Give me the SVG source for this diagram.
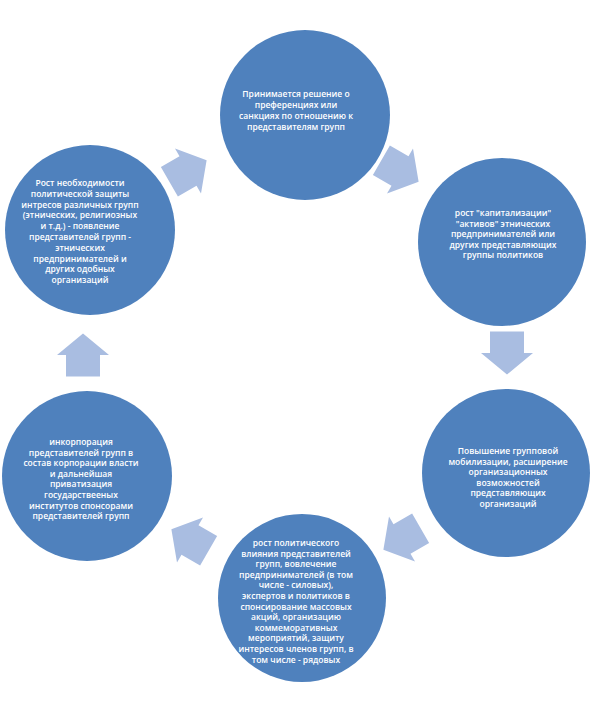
<svg xmlns="http://www.w3.org/2000/svg" width="590" height="710" viewBox="0 0 590 710">
<defs>
<style>
.c{fill:#4F81BD;}
.a{fill:#A9BDE1;}
.t{font-family:"Open Sans","Liberation Sans",sans-serif;font-size:8.5px;font-weight:600;fill:#FFFFFF;text-anchor:middle;}
</style>
<polygon id="arr" points="-21.5,-17 0,-17 0,-26 21.5,0 0,26 0,17 -21.5,17"/>
</defs>
<rect width="590" height="710" fill="#FFFFFF"/>
<g id="connectors">
<use href="#arr" class="a" transform="translate(188,171) rotate(-30)"/>
<use href="#arr" class="a" transform="translate(400,171) rotate(30)"/>
<use href="#arr" class="a" transform="translate(507,353) rotate(90)"/>
<use href="#arr" class="a" transform="translate(402,539) rotate(150)"/>
<use href="#arr" class="a" transform="translate(190,540) rotate(210)"/>
<use href="#arr" class="a" transform="translate(83,355) rotate(-90)"/>
</g>
<g id="node1">
<circle class="c" cx="305" cy="115" r="85"/>
<text class="t"><tspan x="296" y="97">Принимается решение о</tspan><tspan x="296" y="108">преференциях или</tspan><tspan x="296" y="119">санкциях по отношению к</tspan><tspan x="296" y="130">представителям групп</tspan></text>
</g>
<g id="node2">
<circle class="c" cx="502" cy="242" r="84"/>
<text class="t"><tspan x="503" y="216">рост "капитализации"</tspan><tspan x="503" y="226.6">"активов" этнических</tspan><tspan x="503" y="237.2">предпринимателей или</tspan><tspan x="503" y="247.8">других представляющих</tspan><tspan x="503" y="258.4">группы политиков</tspan></text>
</g>
<g id="node3">
<circle class="c" cx="506" cy="473" r="84"/>
<text class="t"><tspan x="508" y="454">Повышение групповой</tspan><tspan x="508" y="464.6">мобилизации, расширение</tspan><tspan x="508" y="475.2">организационных</tspan><tspan x="508" y="485.8">возможностей</tspan><tspan x="508" y="496.4">представляющих</tspan><tspan x="508" y="507">организаций</tspan></text>
</g>
<g id="node4">
<circle class="c" cx="302" cy="598" r="84"/>
<text class="t"><tspan x="296" y="546">рост политического</tspan><tspan x="296" y="556.6">влияния представителей</tspan><tspan x="296" y="567.2">групп, вовлечение</tspan><tspan x="296" y="577.8">предпринимателей (в том</tspan><tspan x="296" y="588.4">числе - силовых),</tspan><tspan x="296" y="599">экспертов и политиков в</tspan><tspan x="296" y="609.6">спонсирование массовых</tspan><tspan x="296" y="620.2">акций, организацию</tspan><tspan x="296" y="630.8">коммеморативных</tspan><tspan x="296" y="641.4">мероприятий, защиту</tspan><tspan x="296" y="652">интересов членов групп, в</tspan><tspan x="296" y="662.6">том числе - рядовых</tspan></text>
</g>
<g id="node5">
<circle class="c" cx="87" cy="476" r="85"/>
<text class="t"><tspan x="81" y="445">инкорпорация</tspan><tspan x="81" y="455.6">представителей групп в</tspan><tspan x="81" y="466.2">состав корпорации власти</tspan><tspan x="81" y="476.8">и дальнейшая</tspan><tspan x="81" y="487.4">приватизация</tspan><tspan x="81" y="498">государствееных</tspan><tspan x="81" y="508.6">институтов спонсорами</tspan><tspan x="81" y="519.2">представителей групп</tspan></text>
</g>
<g id="node6">
<circle class="c" cx="90" cy="230" r="85"/>
<text class="t"><tspan x="80" y="186">Рост необходимости</tspan><tspan x="80" y="196.8">политической защиты</tspan><tspan x="80" y="207.6">интресов различных групп</tspan><tspan x="80" y="218.4">(этнических, религиозных</tspan><tspan x="80" y="229.2">и т.д.) - появление</tspan><tspan x="80" y="240">представителей групп -</tspan><tspan x="80" y="250.8">этнических</tspan><tspan x="80" y="261.6">предпринимателей и</tspan><tspan x="80" y="272.4">других одобных</tspan><tspan x="80" y="283.2">организаций</tspan></text>
</g>
</svg>
